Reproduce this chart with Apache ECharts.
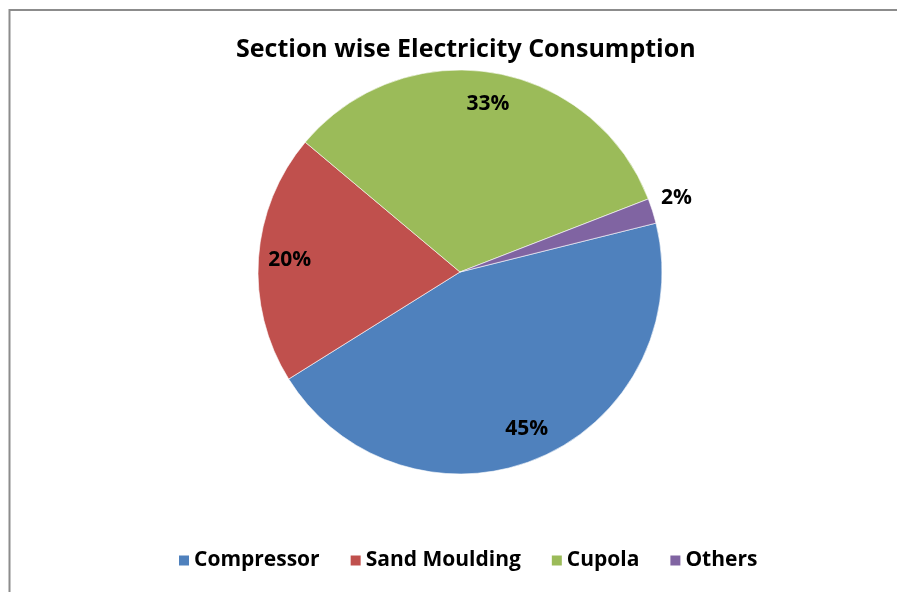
<!DOCTYPE html>
<html>
<head>
<meta charset="utf-8">
<script src="https://cdn.jsdelivr.net/npm/echarts@6/dist/echarts.min.js"></script>
<style>
  html, body { margin: 0; padding: 0; background: #fff; }
  #chart { width: 897px; height: 592px; }
</style>
</head>
<body>
<div id="chart"></div>
<script>
// Share of electricity used by each section (percent)
const sections = ['Compressor', 'Sand Moulding', 'Cupola', 'Others'];
const shares = [45, 20, 33, 2];
const sliceColors = ['#4F81BD', '#C0504D', '#9BBB59', '#8064A2'];

const FONT = '"Open Sans", Lato, "DejaVu Sans", sans-serif';
const CENTER = [460, 272];
const R = 202;
const SMALL = 5; // slices below this share get an outside label

const labelStyle = {
  color: '#000',
  fontFamily: FONT,
  fontWeight: 'bold',
  fontSize: 21,
  formatter: '{c}%'
};

const pieData = sections.map((name, i) => ({
  name,
  value: shares[i],
  itemStyle: { color: sliceColors[i] },
  label: shares[i] < SMALL
    ? { show: true, position: 'outside', offset: [-6, -10] }
    : { show: false },
  labelLine: { show: false, length: 10, length2: 0 }
}));

// Transparent twin ring used only to place the large-slice labels near the rim
const labelData = sections.map((name, i) => ({
  name,
  value: shares[i],
  itemStyle: { color: 'rgba(0,0,0,0)', borderWidth: 0 },
  label: { show: shares[i] >= SMALL }
}));

const chart = echarts.init(document.getElementById('chart'), null, { renderer: 'canvas' });
chart.setOption({
  backgroundColor: '#fff',
  animation: false,
  title: {
    text: 'Section wise Electricity Consumption',
    left: 231,
    top: 32,
    textStyle: { fontFamily: FONT, fontWeight: 'bold', fontSize: 25, color: '#000' }
  },
  legend: {
    data: sections,
    top: 545,
    left: 172,
    icon: 'rect',
    itemWidth: 12,
    itemHeight: 12,
    itemGap: 29,
    textStyle: { fontFamily: FONT, fontWeight: 'bold', fontSize: 21, color: '#000', padding: [0, 0, 0, -1] }
  },
  graphic: [{
    type: 'polyline',
    shape: { points: [[9.5, 600], [9.5, 10], [900, 10]] },
    style: { stroke: '#8c8c8c', lineWidth: 2, fill: null },
    silent: true
  }],
  series: [
    {
      type: 'pie',
      center: CENTER,
      radius: [0, R],
      startAngle: 14,
      clockwise: true,
      avoidLabelOverlap: false,
      itemStyle: { borderColor: '#fff', borderWidth: 0.6 },
      label: labelStyle,
      emphasis: { disabled: true },
      data: pieData
    },
    {
      type: 'pie',
      center: CENTER,
      radius: [0, R * 1.66],
      startAngle: 14,
      clockwise: true,
      silent: true,
      avoidLabelOverlap: false,
      label: Object.assign({ position: 'inside' }, labelStyle),
      labelLine: { show: false },
      emphasis: { disabled: true },
      data: labelData
    }
  ]
});
</script>
</body>
</html>
